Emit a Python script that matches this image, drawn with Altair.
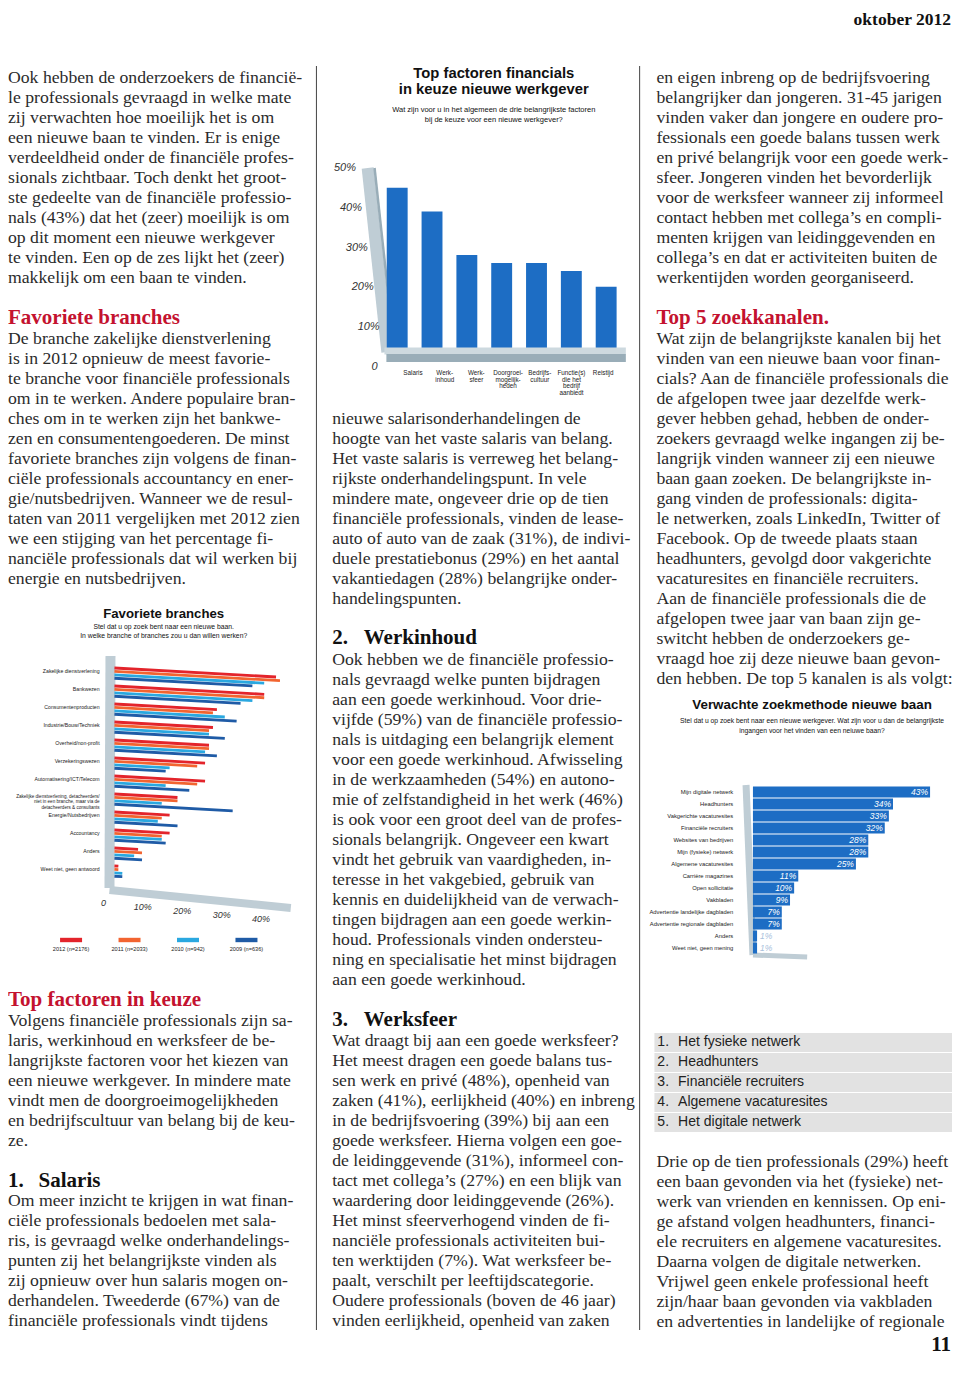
import altair as alt
import pandas as pd

# ---------------------------------------------------------------- data
branche_cats = [
    "Zakelijke dienstverlening", "Bankwezen", "Consumentenproducten",
    "Industrie/Bouw/Techniek", "Overheid/non-profit", "Verzekeringswezen",
    "Automatisering/ICT/Telecom",
    "Zakelijke dienstverlening, detacheerders/\nniet in een branche, maar via de\ndetacheerders & consultants",
    "Energie/Nutsbedrijven", "Accountancy", "Anders", "Weet niet, geen antwoord",
]
branche_years = ["2012 (n=2176)", "2011 (n=2033)", "2010 (n=942)", "2009 (n=636)"]
branche_colors = ["#e3242b", "#f26430", "#2aa8e0", "#1f5ba6"]
branche_2012 = [41, 38, 26, 25, 24, 23, 23, 16, 14, 14, 6, 1]
branche_2011 = [42, 38, 25, 24, 24, 21, 21, 16, 12, 12, 7, 1]
branche_2010 = [38, 35, 28, 24, 23, 14, 13, 12, 11, 12, 5, 2]
branche_2009 = [35, 32, 31, 28, 26, 13, 19, 30, 16, 13, 7, 2]
branche_ticks = [0, 10, 20, 30, 40]
branche_tick_labels = ["0", "10%", "20%", "30%", "40%"]

factor_cats = ["Salaris", "Werkinhoud", "Werksfeer", "Doorgroeimogelijkheden",
               "Bedrijfscultuur", "Functie(s) die het bedrijf aanbiedt", "Reistijd"]
factor_labels = ["Salaris", "Werk-\ninhoud", "Werk-\nsfeer", "Doorgroei-\nmogelijk-\nheden",
                 "Bedrijfs-\ncultuur", "Functie(s)\ndie het\nbedrijf\naanbiedt", "Reistijd"]
factor_values = [45, 39, 28, 26, 26, 24, 20]
factor_ticks = [0, 10, 20, 30, 40, 50]
factor_tick_labels = ["0", "10%", "20%", "30%", "40%", "50%"]

zoek_cats = ["Mijn digitale netwerk", "Headhunters", "Vakgerichte vacaturesites",
             "Financiële recruiters", "Websites van bedrijven", "Mijn (fysieke) netwerk",
             "Algemene vacaturesites", "Carrière magazines", "Open sollicitatie", "Vakbladen",
             "Advertentie landelijke dagbladen", "Advertentie regionale dagbladen",
             "Anders", "Weet niet, geen mening"]
zoek_values = [43, 34, 33, 32, 28, 28, 25, 11, 10, 9, 7, 7, 1, 1]

top5_numbers = ["1.", "2.", "3.", "4.", "5."]
top5_channels = ["Het fysieke netwerk", "Headhunters", "Financiële recruiters",
                 "Algemene vacaturesites", "Het digitale netwerk"]

col1_a = [
    "Ook hebben de onderzoekers de financië-",
    "le professionals gevraagd in welke mate",
    "zij verwachten hoe moeilijk het is om",
    "een nieuwe baan te vinden. Er is enige",
    "verdeeldheid onder de financiële profes-",
    "sionals zichtbaar. Toch denkt het groot-",
    "ste gedeelte van de financiële professio-",
    "nals (43%) dat het (zeer) moeilijk is om",
    "op dit moment een nieuwe werkgever",
    "te vinden. Een op de zes lijkt het (zeer)",
    "makkelijk om een baan te vinden.",
]
col1_b = [
    "De branche zakelijke dienstverlening",
    "is in 2012 opnieuw de meest favorie-",
    "te branche voor financiële professionals",
    "om in te werken. Andere populaire bran-",
    "ches om in te werken zijn het bankwe-",
    "zen en consumentengoederen. De minst",
    "favoriete branches zijn volgens de finan-",
    "ciële professionals accountancy en ener-",
    "gie/nutsbedrijven. Wanneer we de resul-",
    "taten van 2011 vergelijken met 2012 zien",
    "we een stijging van het percentage fi-",
    "nanciële professionals dat wil werken bij",
    "energie en nutsbedrijven.",
]
col1_c = [
    "Volgens financiële professionals zijn sa-",
    "laris, werkinhoud en werksfeer de be-",
    "langrijkste factoren voor het kiezen van",
    "een nieuwe werkgever. In mindere mate",
    "vindt men de doorgroeimogelijkheden",
    "en bedrijfscultuur van belang bij de keu-",
    "ze.",
]
col1_d = [
    "Om meer inzicht te krijgen in wat finan-",
    "ciële professionals bedoelen met sala-",
    "ris, is gevraagd welke onderhandelings-",
    "punten zij het belangrijkste vinden als",
    "zij opnieuw over hun salaris mogen on-",
    "derhandelen. Tweederde (67%) van de",
    "financiële professionals vindt tijdens",
]
col2_a = [
    "nieuwe salarisonderhandelingen de",
    "hoogte van het vaste salaris van belang.",
    "Het vaste salaris is verreweg het belang-",
    "rijkste onderhandelingspunt. In vele",
    "mindere mate, ongeveer drie op de tien",
    "financiële professionals, vinden de lease-",
    "auto of auto van de zaak (31%), de indivi-",
    "duele prestatiebonus (29%) en het aantal",
    "vakantiedagen (28%) belangrijke onder-",
    "handelingspunten.",
]
col2_b = [
    "Ook hebben we de financiële professio-",
    "nals gevraagd welke punten bijdragen",
    "aan een goede werkinhoud. Voor drie-",
    "vijfde (59%) van de financiële professio-",
    "nals is uitdaging een belangrijk element",
    "voor een goede werkinhoud. Afwisseling",
    "in de werkzaamheden (54%) en autono-",
    "mie of zelfstandigheid in het werk (46%)",
    "is ook voor een groot deel van de profes-",
    "sionals belangrijk. Ongeveer een kwart",
    "vindt het gebruik van vaardigheden, in-",
    "teresse in het vakgebied, gebruik van",
    "kennis en duidelijkheid van de verwach-",
    "tingen bijdragen aan een goede werkin-",
    "houd. Professionals vinden ondersteu-",
    "ning en specialisatie het minst bijdragen",
    "aan een goede werkinhoud.",
]
col2_c = [
    "Wat draagt bij aan een goede werksfeer?",
    "Het meest dragen een goede balans tus-",
    "sen werk en privé (48%), openheid van",
    "zaken (41%), eerlijkheid (40%) en inbreng",
    "in de bedrijfsvoering (39%) bij aan een",
    "goede werksfeer. Hierna volgen een goe-",
    "de leidinggevende (31%), informeel con-",
    "tact met collega’s (27%) en een blijk van",
    "waardering door leidinggevende (26%).",
    "Het minst sfeerverhogend vinden de fi-",
    "nanciële professionals activiteiten bui-",
    "ten werktijden (7%). Wat werksfeer be-",
    "paalt, verschilt per leeftijdscategorie.",
    "Oudere professionals (boven de 46 jaar)",
    "vinden eerlijkheid, openheid van zaken",
]
col3_a = [
    "en eigen inbreng op de bedrijfsvoering",
    "belangrijker dan jongeren. 31-45 jarigen",
    "vinden vaker dan jongere en oudere pro-",
    "fessionals een goede balans tussen werk",
    "en privé belangrijk voor een goede werk-",
    "sfeer. Jongeren vinden het bevorderlijk",
    "voor de werksfeer wanneer zij informeel",
    "contact hebben met collega’s en compli-",
    "menten krijgen van leidinggevenden en",
    "collega’s en dat er activiteiten buiten de",
    "werkentijden worden georganiseerd.",
]
col3_b = [
    "Wat zijn de belangrijkste kanalen bij het",
    "vinden van een nieuwe baan voor finan-",
    "cials? Aan de financiële professionals die",
    "de afgelopen twee jaar dezelfde werk-",
    "gever hebben gehad, hebben de onder-",
    "zoekers gevraagd welke ingangen zij be-",
    "langrijk vinden wanneer zij een nieuwe",
    "baan gaan zoeken. De belangrijkste in-",
    "gang vinden de professionals: digita-",
    "le netwerken, zoals LinkedIn, Twitter of",
    "Facebook. Op de tweede plaats staan",
    "headhunters, gevolgd door vakgerichte",
    "vacaturesites en financiële recruiters.",
    "Aan de financiële professionals die de",
    "afgelopen twee jaar van baan zijn ge-",
    "switcht hebben de onderzoekers ge-",
    "vraagd hoe zij deze nieuwe baan gevon-",
    "den hebben. De top 5 kanalen is als volgt:",
]
col3_c = [
    "Drie op de tien professionals (29%) heeft",
    "een baan gevonden via het (fysieke) net-",
    "werk van vrienden en kennissen. Op eni-",
    "ge afstand volgen headhunters, financi-",
    "ele recruiters en algemene vacaturesites.",
    "Daarna volgen de digitale netwerken.",
    "Vrijwel geen enkele professional heeft",
    "zijn/haar baan gevonden via vakbladen",
    "en advertenties in landelijke of regionale",
]

# ---------------------------------------------------------------- layout helpers
# canvas: 944 x 1350 starting at page (8, 8); reference x in [1, 959] is squeezed in.
W, H = 944, 1350
X0, SX = 1.0, 944.0 / 958.0
Y0 = 8.0
SERIF = "Liberation Serif"
SANS = "Liberation Sans"
NARROW = "'Liberation Sans Narrow', 'Liberation Sans', sans-serif"
BODY = "#2b2b2b"
RED = "#c4122f"
BLUE = "#1d6dc4"
WALL = "#bfcdd5"
WALL_DARK = "#99adb8"
FS = 17.7
HS = 21
ONE = pd.DataFrame({"k": [0]})


def cx(x):
    return (x - X0) * SX


def cy(y):
    return y - Y0


def RX(a, b):
    return [cx(a), cx(b)]


def RY(a, b):
    return [cy(a), cy(b)]


def linx(d0, d1, r0, r1):
    return alt.Scale(domain=[d0, d1], range=RX(r0, r1), nice=False, zero=False)


def liny(d0, d1, r0, r1):
    return alt.Scale(domain=[d0, d1], range=RY(r0, r1), nice=False, zero=False)


def VX(p):
    return alt.value(cx(p))


def VY(p):
    return alt.value(cy(p))


layers = []


def block(lines, x0, y0, size=FS, color=BODY, weight="normal", font=SERIF, lh=20):
    df = pd.DataFrame({"t": lines, "i": list(range(len(lines)))})
    layers.append(
        alt.Chart(df).mark_text(align="left", baseline="middle", font=font, fontSize=size,
                                color=color, fontWeight=weight)
        .encode(x=VX(x0), y=alt.Y("i:Q", scale=liny(0, 1, y0, y0 + lh), axis=None), text="t:N")
    )


def label(text, x, y, size, align="center", color="#111", weight="normal", font=SANS, style="normal"):
    df = pd.DataFrame({"t": [text]})
    layers.append(
        alt.Chart(df).mark_text(align=align, baseline="middle", font=font, fontSize=size,
                                color=color, fontWeight=weight, fontStyle=style)
        .encode(x=VX(x), y=VY(y), text="t:N")
    )


def rule(x1, y1, x2, y2, color, width):
    layers.append(
        alt.Chart(ONE).mark_rule(color=color, strokeWidth=width, strokeCap="butt")
        .encode(x=VX(x1), y=VY(y1), x2=VX(x2), y2=VY(y2))
    )


# ---------------------------------------------------------------- page furniture
label("oktober 2012", 958, 20, 17.5, align="right", color="#111", weight="bold", font=SERIF)
label("11", 958, 1345, 21, align="right", color="#111", weight="bold", font=SERIF)
rule(314, 66, 314, 1330, "#444", 1)
rule(642, 66, 642, 1330, "#444", 1)

# ---------------------------------------------------------------- text columns
block(col1_a, 1, 78)
block(["Favoriete branches"], 1, 318, size=HS, color=RED, weight="bold")
block(col1_b, 1, 339)
block(["Top factoren in keuze"], 1, 1000, size=HS, color=RED, weight="bold")
block(col1_c, 1, 1021)
label("1.", 1, 1181, HS, align="left", color="#111", weight="bold", font=SERIF)
label("Salaris", 32, 1181, HS, align="left", color="#111", weight="bold", font=SERIF)
block(col1_d, 1, 1201)

block(col2_a, 330, 419)
label("2.", 330, 638, HS, align="left", color="#111", weight="bold", font=SERIF)
label("Werkinhoud", 362, 638, HS, align="left", color="#111", weight="bold", font=SERIF)
block(col2_b, 330, 660)
label("3.", 330, 1020, HS, align="left", color="#111", weight="bold", font=SERIF)
label("Werksfeer", 362, 1020, HS, align="left", color="#111", weight="bold", font=SERIF)
block(col2_c, 330, 1041)

block(col3_a, 659, 78)
block(["Top 5 zoekkanalen."], 659, 318, size=HS, color=RED, weight="bold")
block(col3_b, 659, 339)
block(col3_c, 659, 1162)

# ---------------------------------------------------------------- top-5 table
t5 = pd.DataFrame({"num": top5_numbers, "lab": top5_channels, "i": list(range(5))})
TY = liny(0, 1, 1033, 1053)
layers.append(
    alt.Chart(t5).transform_calculate(i2="datum.i + 0.95")
    .mark_rect(color="#e2e2e2")
    .encode(x=VX(657), x2=VX(959), y=alt.Y("i:Q", scale=TY, axis=None), y2="i2:Q")
)
TY2 = liny(0, 1, 1042, 1062)
layers.append(
    alt.Chart(t5).mark_text(align="left", baseline="middle", font=NARROW, fontSize=14, color="#222")
    .encode(x=VX(660), y=alt.Y("i:Q", scale=TY2, axis=None), text="num:N")
)
layers.append(
    alt.Chart(t5).mark_text(align="left", baseline="middle", font=NARROW, fontSize=14, color="#222")
    .encode(x=VX(681), y=alt.Y("i:Q", scale=TY2, axis=None), text="lab:N")
)

# ---------------------------------------------------------------- chart: Favoriete branches
label("Favoriete branches", 159, 614, 13.2, weight="bold")
label("Stel dat u op zoek bent naar een nieuwe baan.", 159, 627, 6.8, font=NARROW)
label("In welke branche of branches zou u dan willen werken?", 159, 636, 6.8, font=NARROW)

rule(105, 656, 104, 888, WALL, 10)
rows = []
for yi, (yr, vals) in enumerate(zip(branche_years, [branche_2012, branche_2011, branche_2010, branche_2009])):
    for ci, v in enumerate(vals):
        rows.append({"ci": ci, "yi": yi, "year": yr, "v": v})
bdf = pd.DataFrame(rows)
X1 = linx(0, 50, 109, 309)
Y1 = liny(0, 1, 668, 686)
layers.append(
    alt.Chart(bdf)
    .transform_calculate(pos="datum.ci + datum.yi * 0.19",
                         pos2="datum.ci + datum.yi * 0.19 + 0.0122 * datum.v")
    .mark_rule(strokeWidth=2.8, strokeCap="butt")
    .encode(
        x=alt.X("v:Q", scale=X1, axis=None), x2=alt.datum(0),
        y=alt.Y("pos2:Q", scale=Y1, axis=None), y2="pos:Q",
        color=alt.Color("year:N", scale=alt.Scale(domain=branche_years, range=branche_colors), legend=None),
    )
)
rule(104, 890, 288, 908, WALL, 8)
cdf = pd.DataFrame({"c": branche_cats, "ci": list(range(len(branche_cats)))})
layers.append(
    alt.Chart(cdf).transform_calculate(fs="datum.ci == 7 ? 4.6 : 5.2")
    .mark_text(align="right", baseline="middle", font=NARROW,
               lineBreak="\n", lineHeight=5.3, color="#222")
    .encode(x=VX(94), y=alt.Y("ci:Q", scale=liny(0, 1, 671, 689), axis=None), text="c:N",
            size=alt.Size("fs:Q", scale=None, legend=None))
)
tdf = pd.DataFrame({"t": branche_ticks, "lab": branche_tick_labels})
layers.append(
    alt.Chart(tdf).mark_text(align="center", baseline="middle", font=SANS, fontSize=9,
                             fontStyle="italic", color="#333", dx=-11)
    .encode(x=alt.X("t:Q", scale=X1, axis=None),
            y=alt.Y("t:Q", scale=liny(0, 40, 903, 919), axis=None), text="lab:N")
)
ldf = pd.DataFrame({"year": branche_years})
LX = alt.Scale(domain=branche_years, range=RX(65, 243), type="point", padding=0)
layers.append(
    alt.Chart(ldf).mark_point(shape="M-1,-0.2H1V0.2H-1Z", size=484, filled=True, opacity=1)
    .encode(x=alt.X("year:N", scale=LX, axis=None), y=VY(940),
            color=alt.Color("year:N", scale=alt.Scale(domain=branche_years, range=branche_colors), legend=None))
)
layers.append(
    alt.Chart(ldf).mark_text(baseline="middle", font=NARROW, fontSize=5.6, color="#222")
    .encode(x=alt.X("year:N", scale=LX, axis=None), y=VY(949), text="year:N")
)

# ---------------------------------------------------------------- chart: Top factoren
label("Top factoren financials", 494, 74, 14.8, weight="bold")
label("in keuze nieuwe werkgever", 494, 90, 14.8, weight="bold")
label("Wat zijn voor u in het algemeen de drie belangrijkste factoren", 494, 110, 7.5, font=NARROW)
label("bij de keuze voor een nieuwe werkgever?", 494, 120, 7.5, font=NARROW)

rule(366, 168, 386, 352, WALL, 12)
rule(373, 168, 393, 350, WALL_DARK, 2.5)
fdf = pd.DataFrame({"cat": factor_cats, "lab": factor_labels, "v": factor_values})
XB2 = alt.Scale(domain=factor_cats, range=RX(378.3, 625.7), paddingInner=0.4, paddingOuter=0.2)
YB2 = liny(0, 50, 366, 168)
layers.append(
    alt.Chart(fdf).mark_bar(color=BLUE)
    .encode(x=alt.X("cat:N", scale=XB2, sort=None, axis=None),
            y=alt.Y("v:Q", scale=YB2, axis=None), y2=alt.datum(3))
)
rule(383, 351, 628, 351, "#cdd9df", 7)
rule(385, 358, 628, 358, WALL_DARK, 8)
layers.append(
    alt.Chart(fdf).mark_text(baseline="top", font=NARROW, fontSize=6.3, lineBreak="\n",
                             lineHeight=6.6, color="#222")
    .encode(x=alt.X("cat:N", scale=alt.Scale(domain=factor_cats, range=RX(412, 605), type="point", padding=0), axis=None),
            y=VY(370), text="lab:N")
)
ftdf = pd.DataFrame({"t": factor_ticks, "lab": factor_tick_labels})
layers.append(
    alt.Chart(ftdf).mark_text(align="center", baseline="middle", font=SANS, fontSize=11,
                              fontStyle="italic", color="#333")
    .encode(x=alt.X("t:Q", scale=linx(0, 50, 373, 343), axis=None),
            y=alt.Y("t:Q", scale=liny(0, 50, 367, 168), axis=None), text="lab:N")
)

# ---------------------------------------------------------------- chart: Verwachte zoekmethode
label("Verwachte zoekmethode nieuwe baan", 817, 705, 13.4, weight="bold")
label("Stel dat u op zoek bent naar een nieuwe werkgever. Wat zijn voor u dan de belangrijkste",
      817, 721, 6.75, font=NARROW)
label("ingangen voor het vinden van een neiuwe baan?", 817, 731, 6.75, font=NARROW)

rule(750, 785, 757, 955, WALL, 7)
rule(757, 955, 812, 957, WALL, 5)
zdf = pd.DataFrame({"cat": zoek_cats, "v": zoek_values})
ZX = linx(0, 50, 757, 966)
ZY = alt.Scale(domain=zoek_cats, range=RY(786, 954), paddingInner=0.08, paddingOuter=0.04)
layers.append(
    alt.Chart(zdf).mark_bar(color=BLUE)
    .encode(x=alt.X("v:Q", scale=ZX, axis=None), x2=alt.datum(0),
            y=alt.Y("cat:N", scale=ZY, sort=None, axis=None))
)
layers.append(
    alt.Chart(zdf).transform_filter("datum.v >= 5").transform_calculate(lab="datum.v + '%'")
    .mark_text(align="right", baseline="middle", font=SANS, fontSize=8.5, fontStyle="italic",
               color="white", dx=-2)
    .encode(x=alt.X("v:Q", scale=ZX, axis=None), y=alt.Y("cat:N", scale=ZY, sort=None, axis=None),
            text="lab:N")
)
layers.append(
    alt.Chart(zdf).transform_filter("datum.v < 5").transform_calculate(lab="datum.v + '%'")
    .mark_text(align="left", baseline="middle", font=SANS, fontSize=8.5, fontStyle="italic",
               color="#a9c1dc", dx=3)
    .encode(x=alt.X("v:Q", scale=ZX, axis=None), y=alt.Y("cat:N", scale=ZY, sort=None, axis=None),
            text="lab:N")
)
layers.append(
    alt.Chart(zdf).mark_text(align="right", baseline="middle", font=NARROW, fontSize=5.8, color="#222")
    .encode(x=VX(737), y=alt.Y("cat:N", scale=ZY, sort=None, axis=None), text="cat:N")
)

# ---------------------------------------------------------------- assemble
chart = (
    alt.layer(*layers)
    .resolve_scale(x="independent", y="independent", color="independent")
    .properties(width=W, height=H, padding=0, autosize=alt.AutoSizeParams(type="none"),
                background="white")
    .configure_view(stroke=None)
)
chart.save("out.html", embed_options={"renderer": "svg", "actions": False})
